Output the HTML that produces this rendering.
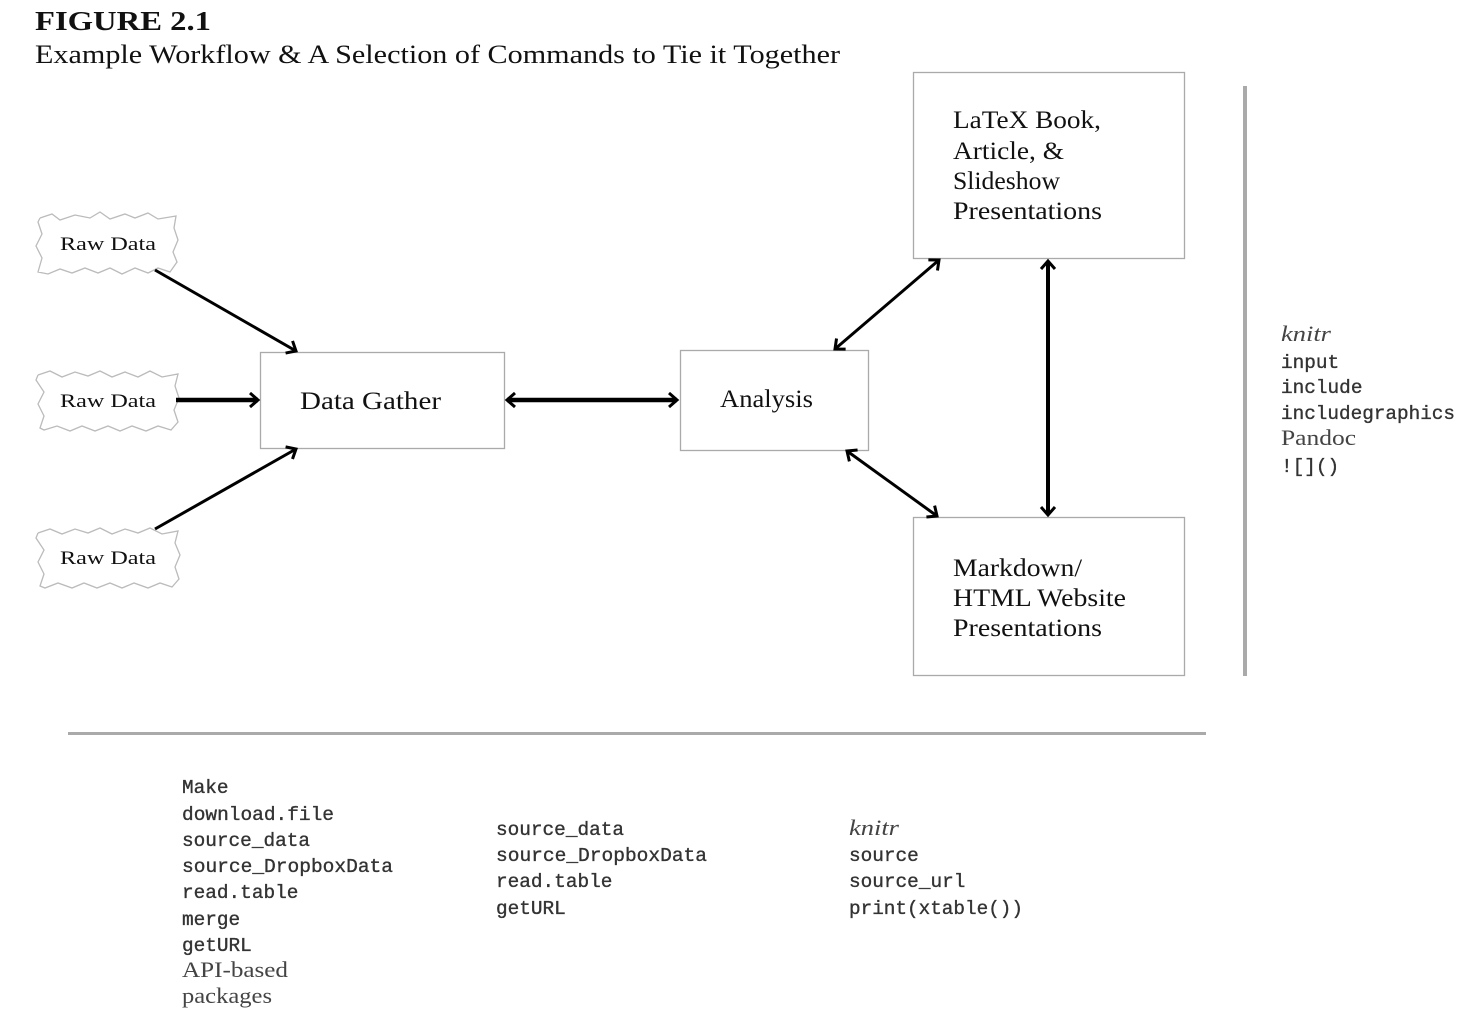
<!DOCTYPE html>
<html><head><meta charset="utf-8"><style>
html,body{margin:0;padding:0;background:#fff;}
svg{display:block;}
.s{font-family:"Liberation Serif",serif;fill:#111;}
.m{font-family:"Liberation Mono",monospace;fill:#333;font-size:19.4px;stroke:#333;stroke-width:0.35;}
.g{font-family:"Liberation Serif",serif;fill:#444;font-size:22px;}
</style></head><body>
<svg width="1477" height="1013" viewBox="0 0 1477 1013" xmlns="http://www.w3.org/2000/svg">
<defs>
<marker id="a" markerUnits="userSpaceOnUse" markerWidth="20" markerHeight="20" refX="0" refY="0" viewBox="-12 -10 14 20" orient="auto-start-reverse">
<path d="M-8,-7 L0,0 L-8,7" fill="none" stroke="#000" stroke-width="3"/>
</marker>
</defs>
<text class="s" x="35" y="30" font-size="27" font-weight="bold" textLength="176" lengthAdjust="spacingAndGlyphs">FIGURE 2.1</text>
<text class="s" x="35" y="63" font-size="26" textLength="805" lengthAdjust="spacingAndGlyphs">Example Workflow &amp; A Selection of Commands to Tie it Together</text>

<g fill="none" stroke="#bbb" stroke-width="1.3">
<polyline points="40,218 52,214 60,220 75,215 90,218 100,212 110,219 125,214 135,218 148,213 158,219 176,216 174,228 178,240 173,252 177,262 170,272 158,268 148,273 135,268 122,274 110,268 98,273 85,268 72,273 60,269 48,274 38,272 42,258 36,246 42,234 38,222 40,218"/>
<polyline points="38,375 50,371 62,377 75,372 88,376 100,371 112,377 125,372 138,377 150,371 162,377 178,374 175,386 179,398 174,410 178,422 171,430 158,426 146,431 132,426 120,431 108,426 95,431 82,426 70,431 57,426 44,430 40,428 44,416 38,404 44,392 36,380 38,375"/>
<polyline points="38,533 50,529 62,534 75,529 88,533 100,528 112,534 125,529 138,533 150,528 162,534 178,531 175,543 180,555 175,567 179,579 172,587 160,583 148,588 134,583 122,588 110,583 97,588 84,583 72,588 58,583 45,588 40,586 44,574 38,562 44,550 36,538 38,533"/>
</g>
<g class="s" font-size="19">
<text x="60" y="250" textLength="96" lengthAdjust="spacingAndGlyphs">Raw Data</text>
<text x="60" y="407" textLength="96" lengthAdjust="spacingAndGlyphs">Raw Data</text>
<text x="60" y="564" textLength="96" lengthAdjust="spacingAndGlyphs">Raw Data</text>
</g>

<g fill="#fff" stroke="#aaa" stroke-width="1.3">
<rect x="260.5" y="352.5" width="244" height="96"/>
<rect x="680.5" y="350.5" width="188" height="100"/>
<rect x="913.5" y="72.5" width="271" height="186"/>
<rect x="913.5" y="517.5" width="271" height="158"/>
</g>
<g class="s" font-size="25">
<text x="300" y="409" textLength="141" lengthAdjust="spacingAndGlyphs">Data Gather</text>
<text x="720" y="407" textLength="93" lengthAdjust="spacingAndGlyphs">Analysis</text>
<text x="953" y="128" textLength="148" lengthAdjust="spacingAndGlyphs">LaTeX Book,</text>
<text x="953" y="159" textLength="111" lengthAdjust="spacingAndGlyphs">Article, &amp;</text>
<text x="953" y="189" textLength="107" lengthAdjust="spacingAndGlyphs">Slideshow</text>
<text x="953" y="219" textLength="149" lengthAdjust="spacingAndGlyphs">Presentations</text>
<text x="953" y="576" textLength="129" lengthAdjust="spacingAndGlyphs">Markdown/</text>
<text x="953" y="606" textLength="173" lengthAdjust="spacingAndGlyphs">HTML Website</text>
<text x="953" y="636" textLength="149" lengthAdjust="spacingAndGlyphs">Presentations</text>
</g>

<g stroke="#000" fill="none">
<line x1="155" y1="270" x2="296" y2="351" stroke-width="3" marker-end="url(#a)"/>
<line x1="176" y1="400" x2="258" y2="400" stroke-width="4.5" marker-end="url(#a)"/>
<line x1="155" y1="529" x2="296" y2="449" stroke-width="3" marker-end="url(#a)"/>
<line x1="507" y1="400" x2="677" y2="400" stroke-width="4.5" marker-start="url(#a)" marker-end="url(#a)"/>
<line x1="835" y1="349" x2="939" y2="260" stroke-width="3" marker-start="url(#a)" marker-end="url(#a)"/>
<line x1="1048" y1="261" x2="1048" y2="515" stroke-width="4" marker-start="url(#a)" marker-end="url(#a)"/>
<line x1="847" y1="451" x2="937" y2="516" stroke-width="3" marker-start="url(#a)" marker-end="url(#a)"/>
</g>

<line x1="1245" y1="86" x2="1245" y2="676" stroke="#aaa" stroke-width="4"/>
<line x1="68" y1="733.5" x2="1206" y2="733.5" stroke="#aaa" stroke-width="3"/>

<text class="g" x="1281" y="341" font-style="italic" textLength="50" lengthAdjust="spacingAndGlyphs">knitr</text>
<text class="m" x="1281" y="368">input</text>
<text class="m" x="1281" y="393">include</text>
<text class="m" x="1281" y="419" textLength="174" lengthAdjust="spacingAndGlyphs">includegraphics</text>
<text class="g" x="1281" y="445" textLength="75" lengthAdjust="spacingAndGlyphs">Pandoc</text>
<text class="m" x="1281" y="472">![]()</text>

<g class="m">
<text x="182" y="793">Make</text>
<text x="182" y="820" textLength="152" lengthAdjust="spacingAndGlyphs">download.file</text>
<text x="182" y="846">source_data</text>
<text x="182" y="872" textLength="211" lengthAdjust="spacingAndGlyphs">source_DropboxData</text>
<text x="182" y="898">read.table</text>
<text x="182" y="925">merge</text>
<text x="182" y="951">getURL</text>
<text x="496" y="835">source_data</text>
<text x="496" y="861" textLength="211" lengthAdjust="spacingAndGlyphs">source_DropboxData</text>
<text x="496" y="887">read.table</text>
<text x="496" y="914">getURL</text>
<text x="849" y="861">source</text>
<text x="849" y="887">source_url</text>
<text x="849" y="914" textLength="174" lengthAdjust="spacingAndGlyphs">print(xtable())</text>
</g>
<text class="g" x="182" y="977" textLength="106" lengthAdjust="spacingAndGlyphs">API-based</text>
<text class="g" x="182" y="1003" textLength="90" lengthAdjust="spacingAndGlyphs">packages</text>
<text class="g" x="849" y="835" font-style="italic" textLength="50" lengthAdjust="spacingAndGlyphs">knitr</text>
</svg>
</body></html>
